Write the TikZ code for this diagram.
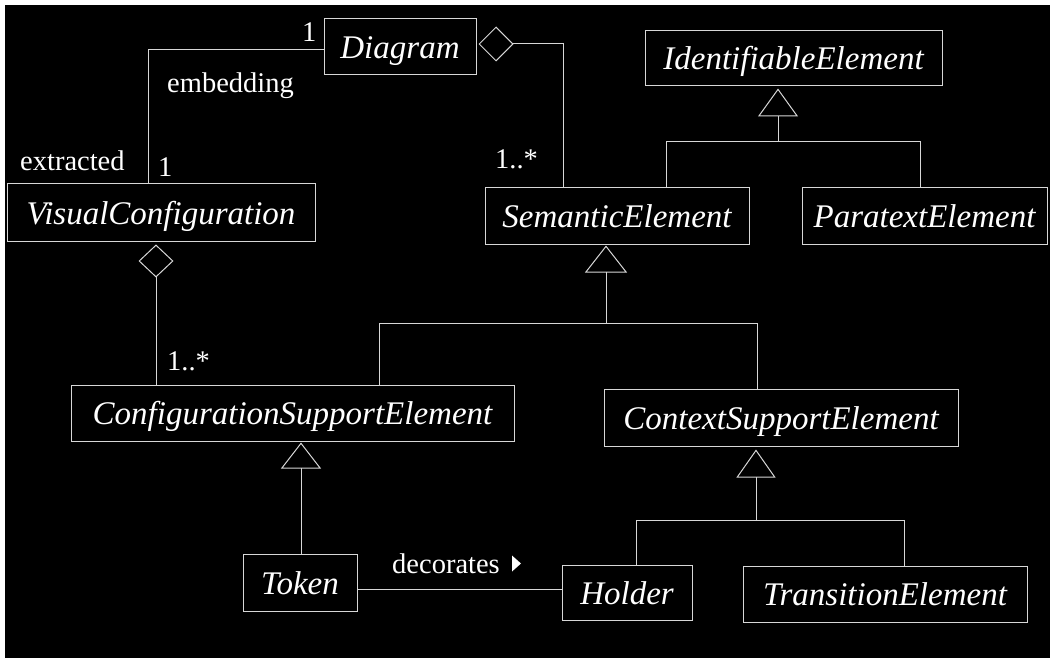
\documentclass[tikz,border=0pt]{standalone}
\usepackage{fontspec}
\setmainfont{Liberation Serif}
\usetikzlibrary{arrows.meta,calc}
\definecolor{ink}{RGB}{215,215,215}
\begin{document}
\begin{tikzpicture}[x=1pt,y=-1pt,
  cls/.style={draw=ink, line width=1pt, inner sep=0pt, text=white,
    font=\fontsize{33}{40}\selectfont\itshape, text height=23pt, text depth=0pt},
  lbl/.style={text=white, inner sep=0pt, font=\fontsize{28.5}{34}\selectfont, anchor=base west},
  conn/.style={draw=ink, line width=1pt},
  gen/.style={conn, {Triangle[open, length=#1]}-},
  agg/.style={conn, {Diamond[open, length=#1]}-}
]
% page with a thin white margin on the top and left
\useasboundingbox (0,0) rectangle (1050,658);
\fill[white] (-10,-10) rectangle (1060,670);
\fill[black] (5,5) rectangle (1060,670);

% classes
\node[cls, minimum width=152pt, minimum height=56pt] (diagram)    at (400,47)    {Diagram};
\node[cls, minimum width=308pt, minimum height=57pt] (visual)     at (161,212.5) {VisualConfiguration};
\node[cls, minimum width=297pt, minimum height=55pt] (ident)      at (793.5,58.5){IdentifiableElement};
\node[cls, minimum width=264pt, minimum height=56pt] (semantic)   at (617,216)   {SemanticElement};
\node[cls, minimum width=245pt, minimum height=56pt] (paratext)   at (924.5,216) {ParatextElement};
\node[cls, minimum width=443pt, minimum height=56pt] (config)     at (292.5,413) {ConfigurationSupportElement};
\node[cls, minimum width=354pt, minimum height=57pt] (context)    at (781,417.5) {ContextSupportElement};
\node[cls, minimum width=114pt, minimum height=57pt] (token)      at (300,582.5) {Token};
\node[cls, minimum width=130pt, minimum height=55pt] (holder)     at (627,592.5) {Holder};
\node[cls, minimum width=284pt, minimum height=56pt] (transition) at (885,594)   {TransitionElement};

% embedding association
\draw[conn] ($(diagram.west)+(0,3)$) -| ($(visual.north)+(-13,0)$);

% aggregations
\draw[agg={35pt, width=35pt}] ($(diagram.east)+(2,-3)$) -| ($(semantic.north)+(-54,0)$);
\draw[agg={33pt, width=35pt}] ($(visual.south)+(-5,3)$) -- ($(config.north)+(-136.5,0)$);

% generalizations
\draw[gen={28pt, width=40pt}] ($(ident.south)+(-15.5,2)$) -- ($(ident.south)+(-15.5,55)$) coordinate (j1);
\draw[conn] (j1) -| ($(semantic.north)+(49,0)$);
\draw[conn] (j1) -| ($(paratext.north)+(-4.5,0)$);

\draw[gen={27pt, width=42pt}] ($(semantic.south)+(-11,1)$) -- ($(semantic.south)+(-11,79)$) coordinate (j2);
\draw[conn] (j2) -| ($(config.north)+(86.5,0)$);
\draw[conn] (j2) -| ($(context.north)+(-24,0)$);

\draw[gen={26pt, width=40pt}] ($(config.south)+(8.5,1)$) -- ($(token.north)+(1,0)$);

\draw[gen={28pt, width=39pt}] ($(context.south)+(-25,3)$) -- ($(context.south)+(-25,74)$) coordinate (j3);
\draw[conn] (j3) -| ($(holder.north)+(9,0)$);
\draw[conn] (j3) -| ($(transition.north)+(19,0)$);

% decorates association
\draw[conn] ($(token.east)+(0,6.5)$) -- ($(holder.west)+(0,-3.5)$);

% role names and multiplicities
\node[lbl] (m1)  at (302,41.5) {1};
\node[lbl] (emb) at (167,93)   {embedding};
\node[lbl] (ext) at (20,171)   {extracted};
\node[lbl] (m2)  at (158,176)  {1};
\node[lbl] (m3)  at (495,168)  {1..*};
\node[lbl] (m4)  at (167,370)  {1..*};
\node[lbl] (dec) at (392,573)  {decorates};
\fill[white] ($(dec.base east)+(12,-17.5)$) -- ++(9,8) -- ++(-9,8) -- cycle;
\end{tikzpicture}
\end{document}
